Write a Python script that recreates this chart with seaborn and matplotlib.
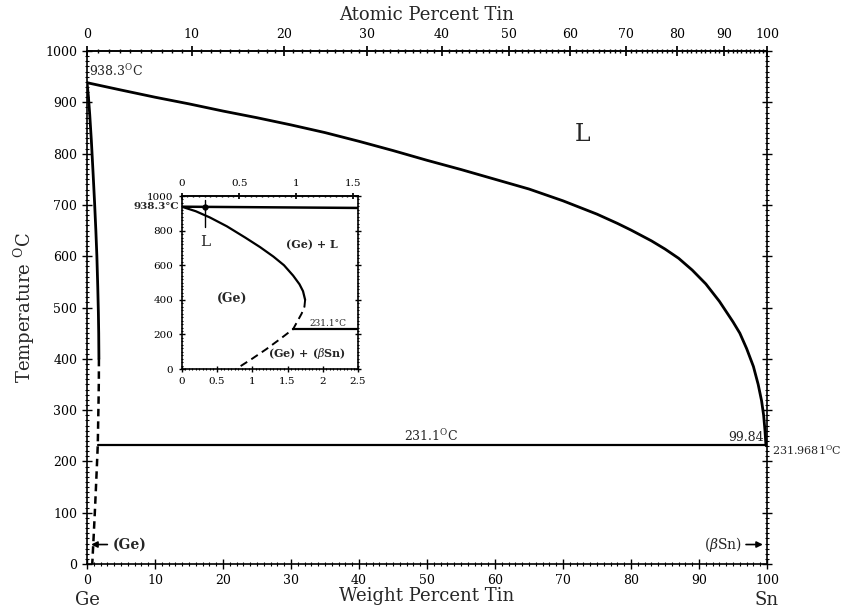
"""
Ge-Sn phase diagram (weight / atomic percent tin) with low-Sn inset.
"""

import numpy as np
import pandas as pd
import matplotlib.pyplot as plt
from matplotlib.ticker import MultipleLocator, FixedLocator, FormatStrFormatter
import seaborn as sns

sns.set_theme(style="white")
plt.rcParams["font.family"] = ["DejaVu Serif"]
plt.rcParams["mathtext.fontset"] = "dejavuserif"

M_SN = 118.71
M_GE = 72.63

# liquidus (wt% Sn, degC)
liq_wt = [0, 5, 10, 15, 20, 25, 30, 35, 40, 45, 50, 55, 60, 65, 70, 75, 78, 80, 83, 85,
          87, 89, 91, 93, 95, 96, 97, 98, 98.7, 99.2, 99.5, 99.7, 99.84]
liq_t = [938.3, 924, 910, 897, 883, 870, 856, 841, 824, 806, 787, 769, 750, 731, 708, 682,
         664, 651, 630, 614, 596, 573, 546, 512, 472, 450, 420, 385, 350, 318, 290, 260, 231.1]

# retrograde solidus (solid) and solvus (dashed)
sol_wt = [0, 0.2, 0.4, 0.64, 0.9, 1.11, 1.3, 1.45, 1.58, 1.67, 1.72, 1.75]
sol_t = [938.3, 912, 876, 825, 760, 705, 650, 600, 540, 490, 450, 400]
solv_wt = [1.75, 1.74, 1.70, 1.58, 1.4, 1.2, 1.0, 0.77]
solv_t = [400, 360, 320, 231.1, 175, 115, 60, 0]

# eutectic isotherm
eut_wt = [1.58, 99.84]
eut_t = [231.1, 231.1]

# atomic percent ticks
at_major = list(range(0, 101, 10))
at_minor = list(range(0, 101, 1))
ins_at_major = [0, 0.5, 1, 1.5]


def wt2at(w):
    w = np.asarray(w, dtype=float)
    with np.errstate(divide="ignore", invalid="ignore"):
        a = (w / M_SN) / (w / M_SN + (100 - w) / M_GE) * 100
    return a


def at2wt(a):
    a = np.asarray(a, dtype=float)
    with np.errstate(divide="ignore", invalid="ignore"):
        w = a * M_SN / (a * M_SN + (100 - a) * M_GE) * 100
    return w


liq = pd.DataFrame({"wt": liq_wt, "t": liq_t})
sol = pd.DataFrame({"wt": sol_wt, "t": sol_t})
solv = pd.DataFrame({"wt": solv_wt, "t": solv_t})
eut = pd.DataFrame({"wt": eut_wt, "t": eut_t})

fig = plt.figure(figsize=(8.44, 6.12), dpi=100)
ax = fig.add_axes([0.1031, 0.0784, 0.8057, 0.8382])


def style_axis(a, xmaj, xmin, ymaj, ymin, fs):
    for s in a.spines.values():
        s.set_color("black")
        s.set_linewidth(1.2)
    a.xaxis.set_major_locator(MultipleLocator(xmaj))
    a.xaxis.set_minor_locator(MultipleLocator(xmin))
    a.yaxis.set_major_locator(MultipleLocator(ymaj))
    a.yaxis.set_minor_locator(MultipleLocator(ymin))
    a.tick_params(which="major", direction="inout", length=7, width=1, colors="black",
                  labelsize=fs, bottom=True, left=True, right=True, labelright=False)
    a.tick_params(which="minor", direction="inout", length=3, width=0.8, colors="black",
                  bottom=True, left=True, right=True)


# main diagram
sns.lineplot(data=liq, x="wt", y="t", ax=ax, color="black", lw=2, sort=False, estimator=None)
sns.lineplot(data=sol, x="wt", y="t", ax=ax, color="black", lw=2, sort=False, estimator=None)
sns.lineplot(data=solv, x="wt", y="t", ax=ax, color="black", lw=1.8, sort=False,
             estimator=None, linestyle=(0, (3, 2)))
sns.lineplot(data=eut, x="wt", y="t", ax=ax, color="black", lw=1.6, sort=False, estimator=None)
ax.set_xlim(0, 100)
ax.set_ylim(0, 1000)
style_axis(ax, 10, 1, 100, 10, 9)
ax.set_xlabel("Weight Percent Tin", fontsize=13, labelpad=0)
ax.set_ylabel("Temperature $^{\\rm O}$C", fontsize=13, labelpad=6)

top = ax.secondary_xaxis("top", functions=(wt2at, at2wt))
top.xaxis.set_major_locator(FixedLocator(at_major))
top.xaxis.set_minor_locator(FixedLocator(at_minor))
top.tick_params(which="major", direction="inout", length=7, labelsize=9, colors="black")
top.tick_params(which="minor", direction="inout", length=3, colors="black")
top.set_xlabel("Atomic Percent Tin", fontsize=13, labelpad=6)

ax.text(0.3, 945, "938.3$^{\\rm O}$C", fontsize=9, ha="left", va="bottom")
ax.text(50.6, 234, "231.1$^{\\rm O}$C", fontsize=9, ha="center", va="bottom")
ax.text(99.6, 234, "99.84", fontsize=9, ha="right", va="bottom")
ax.text(100.8, 222, "231.9681$^{\\rm O}$C", fontsize=8, ha="left", va="center")
ax.text(72.9, 838, "L", fontsize=17, ha="center", va="center")
ax.annotate("", xy=(0.2, 38), xytext=(3.4, 38),
            arrowprops=dict(arrowstyle="-|>", color="black", lw=1.2, mutation_scale=9))
ax.text(3.8, 38, "(Ge)", fontsize=10, ha="left", va="center", fontweight="bold")
ax.annotate("", xy=(99.8, 38), xytext=(96.5, 38),
            arrowprops=dict(arrowstyle="-|>", color="black", lw=1.2, mutation_scale=9))
ax.text(96.3, 38, "($\\beta$Sn)", fontsize=10, ha="right", va="center")
ax.annotate("Ge", xy=(0, -0.07), xycoords=("data", "axes fraction"), fontsize=13,
            ha="center", va="center")
ax.annotate("Sn", xy=(100, -0.07), xycoords=("data", "axes fraction"), fontsize=13,
            ha="center", va="center")

# inset, low-Sn corner
ins = fig.add_axes([0.2153, 0.397, 0.2089, 0.2827])
sns.lineplot(data=liq, x="wt", y="t", ax=ins, color="black", lw=1.8, sort=False, estimator=None)
sns.lineplot(data=sol, x="wt", y="t", ax=ins, color="black", lw=1.6, sort=False, estimator=None)
sns.lineplot(data=solv, x="wt", y="t", ax=ins, color="black", lw=1.4, sort=False,
             estimator=None, linestyle=(0, (4, 2.5)))
sns.lineplot(data=eut, x="wt", y="t", ax=ins, color="black", lw=1.6, sort=False, estimator=None)
ins.set_xlim(0, 2.5)
ins.set_ylim(0, 1000)
style_axis(ins, 0.5, 0.05, 200, 20, 7.5)
ins.xaxis.set_major_formatter(FormatStrFormatter("%g"))
ins.tick_params(which="major", length=5)
ins.tick_params(which="minor", length=2)
ins.set_xlabel("")
ins.set_ylabel("")

itop = ins.secondary_xaxis("top", functions=(wt2at, at2wt))
itop.xaxis.set_major_locator(FixedLocator(ins_at_major))
itop.xaxis.set_major_formatter(FormatStrFormatter("%g"))
itop.xaxis.set_minor_locator(FixedLocator([i * 0.05 for i in range(31)]))
itop.tick_params(which="major", direction="inout", length=5, labelsize=7.5, colors="black")
itop.tick_params(which="minor", direction="inout", length=2, colors="black")

ins.plot([0.33, 0.33], [975, 820], color="black", lw=1)
ins.plot([0.33], [935], marker="o", ms=3.5, color="black")
ins.text(0.34, 735, "L", fontsize=11, ha="center", va="center")
ins.text(-0.04, 938.3, "938.3°C", fontsize=7.5, ha="right", va="center", fontweight="bold")
ins.text(1.85, 717, "(Ge) + L", fontsize=8, ha="center", va="center", fontweight="bold")
ins.text(0.71, 410, "(Ge)", fontsize=9, ha="center", va="center", fontweight="bold")
ins.text(2.07, 240, "231.1°C", fontsize=6.5, ha="center", va="bottom")
ins.text(1.78, 92, "(Ge) + ($\\beta$Sn)", fontsize=8, ha="center", va="center", fontweight="bold")

fig.savefig("out.png", dpi=100)
